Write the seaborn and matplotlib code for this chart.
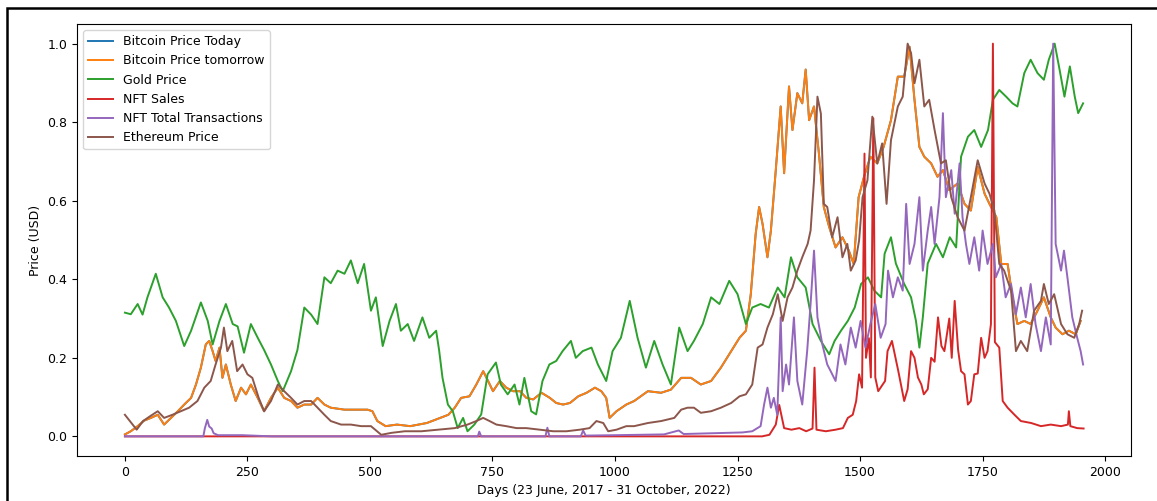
#!/usr/bin/env python3

import numpy as np
import pandas as pd
import matplotlib
matplotlib.use("Agg")
import matplotlib.pyplot as plt
import seaborn as sns
from matplotlib.patches import Rectangle

# -----------------------------------------------------------------------------
# Data (normalised 0-1)
# -----------------------------------------------------------------------------

gold_days = [
    0, 12, 26, 36, 46, 63, 77, 90, 104, 121, 135, 155, 169, 179, 193, 206, 220,
    230, 243, 257, 271, 284, 298, 312, 322, 339, 352, 366, 380, 393, 407, 420,
    434, 448, 461, 475, 488, 502, 512, 526, 540, 553, 563, 577, 590, 607, 621,
    635, 641, 648, 659, 669, 679, 690, 699, 713, 727, 740, 757, 767, 781, 795,
    805, 815, 829, 839, 852, 866, 880, 893, 910, 920, 934, 952, 965, 982, 995,
    1012, 1030, 1046, 1063, 1080, 1097, 1114, 1131, 1148, 1161, 1179, 1196,
    1213, 1233, 1250, 1267, 1280, 1297, 1314, 1332, 1346, 1359, 1372, 1389,
    1403, 1420, 1437, 1448, 1461, 1475, 1489, 1502, 1516, 1529, 1543, 1550,
    1563, 1573, 1590, 1604, 1614, 1621, 1628, 1638, 1655, 1669, 1683, 1696,
    1706, 1720, 1733, 1747, 1761, 1771, 1784, 1798, 1811, 1821, 1835, 1848,
    1862, 1875, 1885, 1897, 1907, 1917, 1928, 1938, 1945, 1955,
]
gold_price = [
    .315, .311, .337, .31, .354, .414, .354, .328, .294, .23, .269, .341, .294,
    .234, .294, .337, .286, .28, .213, .286, .251, .22, .183, .141, .115, .166,
    .22, .328, .31, .286, .405, .39, .422, .414, .448, .39, .439, .32, .354,
    .23, .294, .337, .269, .286, .243, .303, .251, .269, .22, .149, .081, .064,
    .021, .047, .013, .03, .056, .158, .188, .132, .107, .132, .081, .149, .064,
    .056, .141, .183, .192, .217, .243, .2, .217, .226, .183, .141, .217, .251,
    .345, .251, .175, .243, .183, .132, .277, .217, .243, .286, .354, .337,
    .396, .362, .286, .328, .337, .328, .379, .354, .456, .405, .379, .286,
    .243, .209, .243, .269, .294, .328, .388, .405, .371, .354, .465, .507,
    .44, .388, .354, .294, .226, .303, .44, .49, .456, .507, .481, .712, .763,
    .78, .737, .78, .857, .882, .865, .848, .84, .925, .959, .925, .908, .959,
    1.0, .934, .865, .942, .865, .823, .848,
]

btc_days = [
    0, 12, 26, 39, 53, 67, 80, 94, 108, 121, 135, 145, 155, 165, 172, 179, 185,
    193, 199, 206, 216, 226, 237, 247, 257, 271, 284, 298, 312, 325, 339, 352,
    366, 380, 393, 407, 420, 448, 475, 495, 505, 515, 532, 555, 582, 616, 643,
    660, 673, 686, 703, 717, 731, 741, 751, 765, 778, 792, 806, 819, 833, 850,
    867, 880, 894, 908, 925, 942, 959, 972, 982, 989, 1003, 1023, 1039, 1067,
    1094, 1114, 1135, 1155, 1175, 1196, 1216, 1237, 1254, 1267, 1277, 1287,
    1294, 1301, 1311, 1318, 1328, 1338, 1345, 1355, 1362, 1372, 1382, 1389,
    1396, 1406, 1416, 1426, 1437, 1450, 1464, 1477, 1487, 1497, 1508, 1521,
    1535, 1548, 1563, 1577, 1590, 1601, 1611, 1621, 1631, 1645, 1658, 1669,
    1682, 1699, 1713, 1726, 1740, 1754, 1764, 1778, 1788, 1801, 1811, 1821,
    1835, 1848, 1862, 1875, 1889, 1899, 1913, 1926, 1940, 1950,
]
btc_price = [
    .005, .013, .026, .04, .047, .055, .03, .047, .064, .081, .098, .132, .175,
    .234, .243, .217, .192, .226, .149, .183, .132, .09, .124, .107, .132, .098,
    .064, .098, .124, .098, .09, .073, .081, .081, .098, .081, .073, .068, .068,
    .068, .064, .039, .026, .03, .026, .034, .047, .055, .073, .098, .102, .132,
    .166, .141, .115, .141, .124, .115, .115, .098, .094, .111, .098, .085,
    .081, .085, .102, .111, .124, .115, .098, .047, .064, .081, .09, .115,
    .111, .119, .149, .149, .132, .141, .175, .217, .251, .269, .362, .516,
    .584, .541, .456, .524, .678, .84, .67, .891, .78, .874, .848, .934, .805,
    .84, .72, .584, .533, .481, .507, .473, .439, .609, .661, .712, .695, .737,
    .805, .916, .916, .992, .857, .737, .712, .695, .661, .678, .627, .644,
    .592, .575, .686, .618, .592, .558, .439, .439, .354, .286, .294, .286,
    .32, .354, .303, .277, .26, .269, .26, .294,
]

eth_days = [
    0, 10, 24, 37, 51, 67, 80, 97, 114, 131, 148, 162, 175, 185, 196, 202, 209,
    219, 229, 240, 250, 260, 273, 284, 298, 312, 325, 339, 352, 366, 380, 393,
    407, 420, 441, 461, 482, 502, 523, 544, 571, 605, 639, 673, 699, 717, 731,
    744, 758, 778, 799, 819, 846, 874, 901, 928, 948, 962, 976, 986, 1003,
    1023, 1039, 1067, 1094, 1121, 1135, 1148, 1161, 1175, 1196, 1216, 1237,
    1254, 1267, 1280, 1291, 1301, 1311, 1322, 1332, 1342, 1352, 1362, 1372,
    1382, 1393, 1399, 1406, 1413, 1420, 1426, 1433, 1443, 1454, 1464, 1474,
    1481, 1491, 1498, 1505, 1515, 1525, 1535, 1545, 1554, 1563, 1577, 1587,
    1597, 1604, 1611, 1621, 1631, 1641, 1652, 1665, 1675, 1686, 1699, 1713,
    1726, 1740, 1754, 1764, 1774, 1784, 1794, 1808, 1818, 1828, 1841, 1855,
    1869, 1875, 1885, 1896, 1910, 1923, 1937, 1947, 1953,
]
eth_price = [
    .055, .039, .017, .039, .051, .064, .047, .055, .064, .073, .09, .124, .141,
    .183, .226, .277, .217, .243, .166, .183, .158, .149, .098, .064, .09, .132,
    .115, .098, .081, .09, .09, .073, .055, .039, .03, .03, .026, .026, .004,
    .009, .013, .013, .017, .021, .03, .039, .047, .039, .03, .026, .021, .021,
    .017, .013, .013, .017, .021, .039, .034, .013, .017, .026, .026, .034,
    .039, .047, .068, .073, .073, .06, .064, .073, .085, .102, .107, .132,
    .226, .234, .277, .311, .362, .294, .354, .379, .422, .456, .49, .524,
    .652, .865, .822, .592, .584, .507, .558, .456, .49, .422, .448, .499,
    .609, .652, .814, .695, .746, .592, .754, .84, .865, 1.0, .976, .899, .959,
    .84, .857, .78, .695, .703, .609, .558, .524, .609, .703, .644, .618, .575,
    .439, .422, .371, .217, .243, .217, .32, .345, .388, .337, .362, .286, .26,
    .251, .286, .32,
]

nft_sales_days = [
    0, 400, 800, 1200, 1300, 1315, 1328, 1335, 1345, 1360, 1376, 1390, 1403,
    1407, 1411, 1430, 1450, 1465, 1475, 1485, 1492, 1498, 1504, 1509, 1512,
    1518, 1522, 1527, 1531, 1537, 1545, 1551, 1556, 1565, 1578, 1590, 1597,
    1604, 1611, 1618, 1625, 1630, 1638, 1645, 1652, 1659, 1666, 1672, 1682,
    1687, 1693, 1700, 1706, 1713, 1720, 1726, 1733, 1740, 1747, 1754, 1760,
    1767, 1771, 1775, 1784, 1791, 1801, 1815, 1828, 1849, 1869, 1889, 1910,
    1924, 1926, 1929, 1943, 1956,
]
nft_sales = [
    0, 0, 0, 0, 0, .004, .03, .08, .021, .017, .021, .013, .02, .175, .017,
    .013, .017, .021, .047, .055, .09, .158, .124, .72, .2, .25, .15, .81, .15,
    .115, .13, .141, .217, .243, .166, .09, .12, .217, .2, .15, .132, .107,
    .12, .2, .19, .303, .23, .217, .3, .2, .345, .22, .166, .158, .081, .09,
    .158, .16, .251, .2, .217, .286, 1.0, .24, .226, .09, .073, .055, .039,
    .034, .026, .03, .026, .03, .064, .026, .021, .02,
]

nft_tx_days = [
    0, 160, 163, 168, 172, 177, 181, 190, 240, 300, 720, 723, 727, 858, 862,
    866, 930, 935, 940, 1000, 1100, 1130, 1140, 1200, 1260, 1280, 1297, 1304,
    1311, 1318, 1324, 1331, 1338, 1342, 1349, 1355, 1365, 1372, 1382, 1392,
    1399, 1406, 1413, 1423, 1433, 1440, 1450, 1460, 1470, 1481, 1491, 1501,
    1511, 1521, 1531, 1542, 1552, 1557, 1567, 1577, 1587, 1594, 1601, 1611,
    1621, 1628, 1638, 1645, 1652, 1662, 1669, 1675, 1686, 1693, 1703, 1709,
    1716, 1723, 1733, 1743, 1750, 1760, 1771, 1777, 1788, 1797, 1808, 1818,
    1828, 1838, 1848, 1858, 1869, 1879, 1889, 1894, 1899, 1910, 1916, 1923,
    1933, 1943, 1950, 1955,
]
nft_tx = [
    0, 0, .02, .042, .025, .02, .008, .003, .003, 0, 0, .012, 0, 0, .022, 0, 0,
    .015, .002, .003, .005, .015, .006, .008, .01, .013, .026, .08, .124, .073,
    .098, .055, .303, .115, .183, .132, .303, .141, .081, .217, .337, .473,
    .303, .234, .183, .166, .141, .234, .183, .277, .226, .294, .226, .286,
    .337, .251, .286, .422, .354, .405, .371, .592, .439, .49, .609, .422,
    .524, .584, .49, .609, .823, .609, .678, .567, .695, .558, .49, .439, .507,
    .422, .524, .439, .49, .405, .439, .354, .388, .311, .379, .303, .388,
    .286, .217, .303, .234, 1.0, .49, .422, .473, .405, .303, .251, .217, .183,
]

series = [
    ("Bitcoin Price Today", btc_days, btc_price),
    ("Bitcoin Price tomorrow", btc_days, btc_price),
    ("Gold Price", gold_days, gold_price),
    ("NFT Sales", nft_sales_days, nft_sales),
    ("NFT Total Transactions", nft_tx_days, nft_tx),
    ("Ethereum Price", eth_days, eth_price),
]

# -----------------------------------------------------------------------------
# Plot
# -----------------------------------------------------------------------------

plt.rcParams["font.family"] = ["DejaVu Sans"]
plt.rcParams["font.size"] = 9

colors = sns.color_palette("tab10", 6)

fig = plt.figure(figsize=(11.57, 5.01), dpi=100)
ax = fig.add_axes([77 / 1157, 1 - 456 / 501, (1131 - 77) / 1157, (456 - 24) / 501])

for (name, x, y), c in zip(series, colors):
    sns.lineplot(x=x, y=y, ax=ax, color=c, label=name, linewidth=1.4,
                 estimator=None, errorbar=None)

ax.set_xlim(-97.75, 2052.75)
ax.set_ylim(-0.05, 1.05)
ax.set_xticks(np.arange(0, 2001, 250))
ax.set_yticks(np.arange(0, 1.01, 0.2))
ax.set_xlabel("Days (23 June, 2017 - 31 October, 2022)")
ax.set_ylabel("Price (USD)")
ax.legend(loc="upper left")

# border of the figure box in the source document
fig.patches.append(Rectangle((7 / 1157, -0.1), 1.2, 1.1 - 8 / 501,
                             transform=fig.transFigure, fill=False,
                             edgecolor="black", linewidth=1.8))

fig.savefig("out.png", dpi=100)
